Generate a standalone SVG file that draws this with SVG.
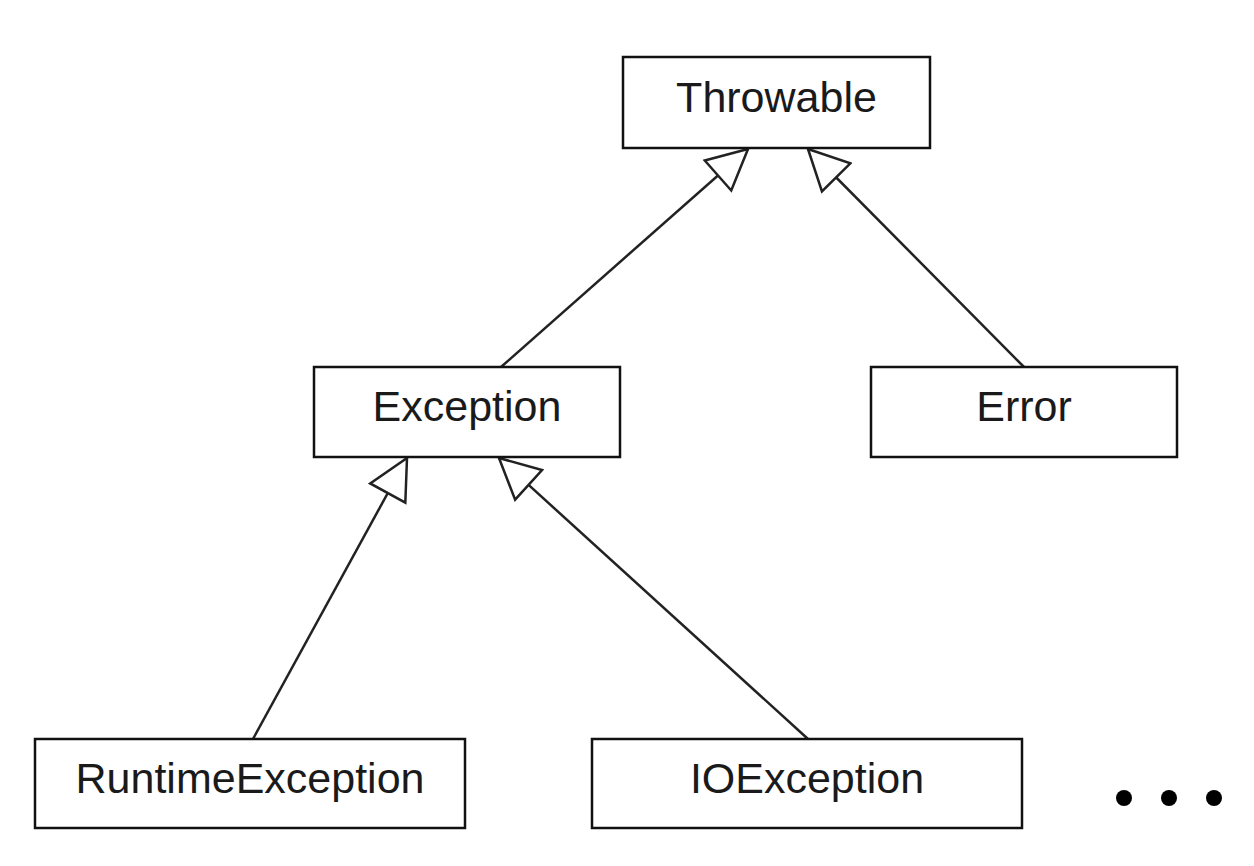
<svg xmlns="http://www.w3.org/2000/svg" width="1254" height="866" viewBox="0 0 1254 866">
<style>
.box{fill:#fff;stroke:#111;stroke-width:2.5}
.lbl{font-family:"Liberation Sans",Arial,sans-serif;font-size:43px;fill:#1a1a1a;text-anchor:middle}
.edge{stroke:#222;stroke-width:2.5;fill:none}
</style>
<defs>
<marker id="tri" markerUnits="userSpaceOnUse" viewBox="-42 -22 44 44" refX="0" refY="0" markerWidth="44" markerHeight="44" orient="auto">
<path d="M0,0 L-40,-20 L-40,20 Z" fill="#fff" stroke="#222" stroke-width="2.5" stroke-linejoin="miter"/>
</marker>
</defs>
<rect width="1254" height="866" fill="#fff"/>
<g id="connectors">
<line class="edge" x1="501" y1="367" x2="748" y2="149" marker-end="url(#tri)"/>
<line class="edge" x1="1024" y1="367" x2="808" y2="149" marker-end="url(#tri)"/>
<line class="edge" x1="253" y1="739" x2="407" y2="458" marker-end="url(#tri)"/>
<line class="edge" x1="808" y1="739" x2="499" y2="458" marker-end="url(#tri)"/>
</g>
<g id="throwable"><rect class="box" x="623" y="57" width="307" height="91"/><text class="lbl" x="776.5" y="112">Throwable</text></g>
<g id="exception"><rect class="box" x="314" y="367" width="306" height="90"/><text class="lbl" x="467" y="421">Exception</text></g>
<g id="error"><rect class="box" x="871" y="367" width="306" height="90"/><text class="lbl" x="1024" y="421">Error</text></g>
<g id="runtimeexception"><rect class="box" x="35" y="739" width="430" height="89"/><text class="lbl" x="250" y="793">RuntimeException</text></g>
<g id="ioexception"><rect class="box" x="592" y="739" width="430" height="89"/><text class="lbl" x="807" y="793">IOException</text></g>
<g id="more">
<circle cx="1124" cy="798" r="8" fill="#000"/>
<circle cx="1169" cy="798" r="8" fill="#000"/>
<circle cx="1214" cy="798" r="8" fill="#000"/>
</g>
</svg>
